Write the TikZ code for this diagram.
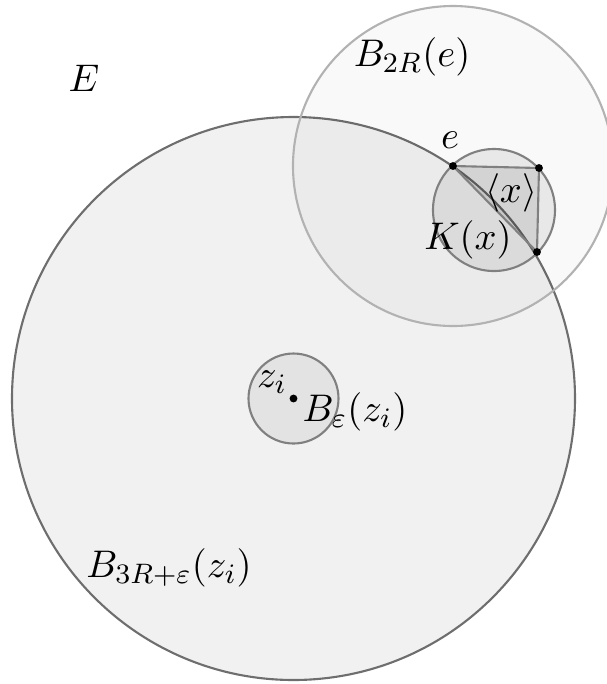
\documentclass[tikz,border=0pt]{standalone}
\usepackage{amsmath}
\begin{document}
\begin{tikzpicture}[x=0.01cm,y=-0.01cm,font=\fontsize{11.2}{14}\selectfont]
				\useasboundingbox (0,0) rectangle (607,684);

				\coordinate (z) at (293.5,398.5);
				\coordinate (e) at (453,166);
				\coordinate (k) at (494,210);
				\coordinate (a) at (539,168);
				\coordinate (b) at (537,252);

				\filldraw[fill=black, fill opacity=0.055, draw=black!57, line width=0.6pt] (z) circle[radius=281.5];
				\filldraw[fill=black, fill opacity=0.025, draw=black!30, line width=0.6pt] (e) circle[radius=160];
				\filldraw[fill=black, fill opacity=0.065, draw=black!50, line width=0.6pt] (k) circle[radius=61];
				\filldraw[fill=black, fill opacity=0.09, draw=black!50, line width=0.6pt, line join=round] (e) -- (a) -- (b) -- cycle;
				\filldraw[fill=black, fill opacity=0.06, draw=black!50, line width=0.6pt] (z) circle[radius=45];

				\foreach \i in {z, e, a, b}{
						\filldraw[black] (\i) circle (0.9pt);

					}

				\node (lE) at (84,78) {$E$};
				\node (lB2R) at (412,57) {$B_{2R}(e)$};
				\node (le) at (450,140) {$e$};
				\node (lx) at (511,193) {$\langle x\rangle$};
				\node (lK) at (468,240) {$K(x)$};
				\node (lz) at (272,382) {$z_i$};
				\node (lBeps) at (355,412) {$B_\varepsilon(z_i)$};
				\node (lB3R) at (169,568) {$B_{3R+\varepsilon}(z_i)$};
			\end{tikzpicture}
\end{document}
